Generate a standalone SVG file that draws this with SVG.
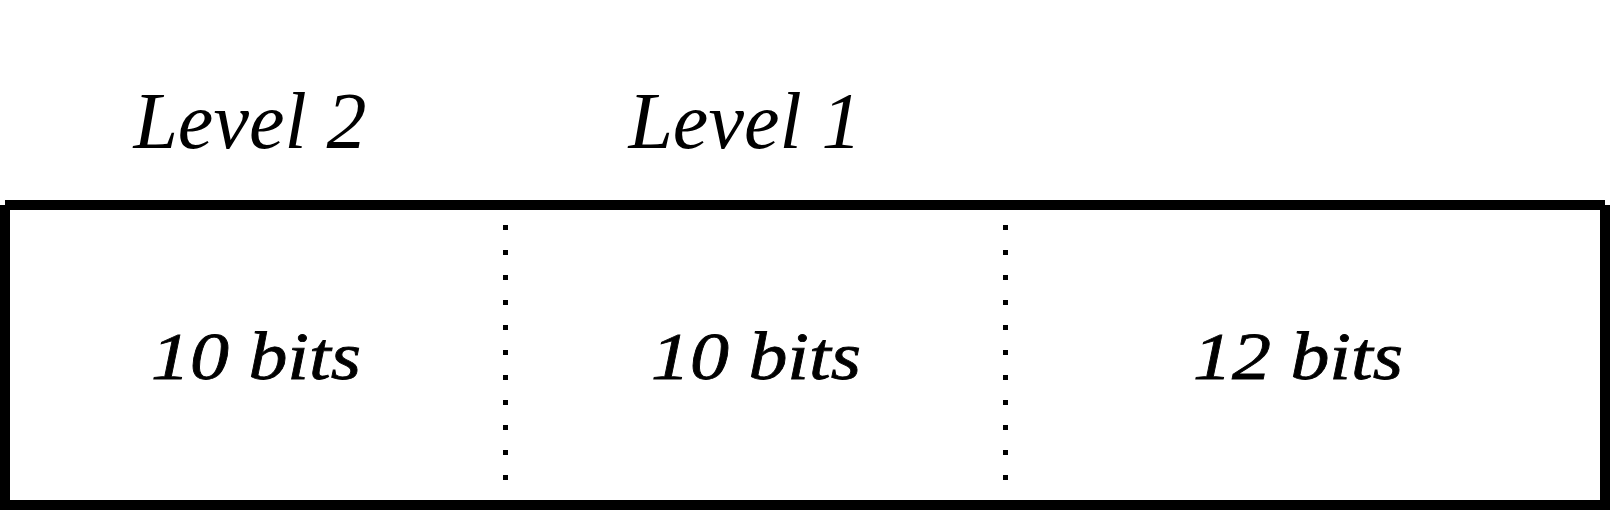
<svg xmlns="http://www.w3.org/2000/svg" width="1610" height="510" viewBox="0 0 1610 510">
<style>
.lvl{font-family:"Liberation Serif","Times New Roman",serif;font-style:italic;font-size:80px;fill:#000;text-anchor:middle}
.bits{font-family:"Liberation Serif","Times New Roman",serif;font-style:italic;font-size:67px;fill:#000;stroke:#000;stroke-width:0.8;text-anchor:middle}
.frame{stroke:#000;stroke-width:10;fill:none;stroke-linecap:butt}
.dots{stroke:#000;stroke-width:5;stroke-dasharray:5 20;fill:none}
</style>
<rect width="1610" height="510" fill="#fff"/>
<g id="labels">
<text class="lvl" x="250" y="148">Level 2</text>
<text class="lvl" x="745" y="148">Level 1</text>
</g>
<g id="frame">
<path class="frame" d="M5 205H1605M5 205V510M1605 205V510M0 505H1610"/>
</g>
<g id="connectors">
<line class="dots" x1="505.5" y1="225" x2="505.5" y2="485"/>
<line class="dots" x1="1005.5" y1="225" x2="1005.5" y2="485"/>
</g>
<g id="field-level2"><text class="bits" x="256" y="379" textLength="210" lengthAdjust="spacingAndGlyphs">10 bits</text></g>
<g id="field-level1"><text class="bits" x="756" y="379" textLength="210" lengthAdjust="spacingAndGlyphs">10 bits</text></g>
<g id="field-offset"><text class="bits" x="1298" y="379" textLength="210" lengthAdjust="spacingAndGlyphs">12 bits</text></g>
</svg>
